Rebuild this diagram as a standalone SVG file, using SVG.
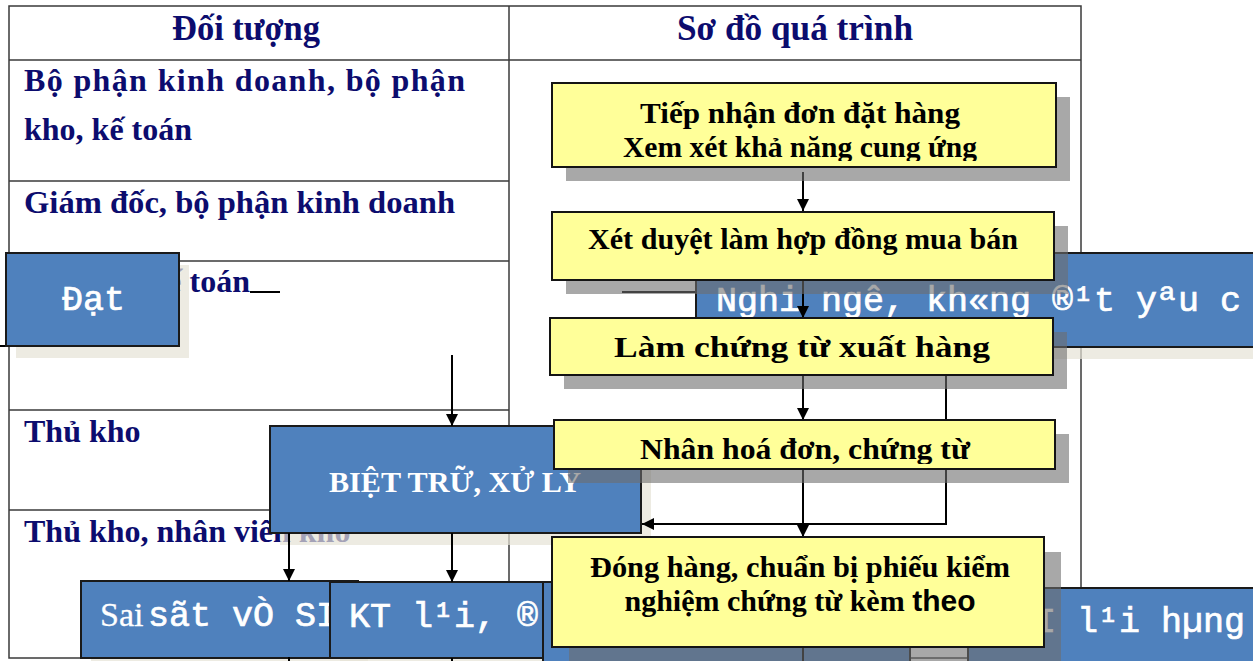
<svg xmlns="http://www.w3.org/2000/svg" width="1253" height="661" viewBox="0 0 1253 661">
<defs>
<style>
.tbl{fill:none;stroke:#3a3a3a;stroke-width:1.5}
.lt{font-family:"Liberation Serif","Times New Roman",serif;font-weight:bold;font-size:32px;fill:#0c0c6e}
.hd{font-family:"Liberation Serif","Times New Roman",serif;font-weight:bold;font-size:35px;fill:#0c0c6e;text-anchor:middle}
.yb{fill:#ffff99;stroke:#141414;stroke-width:2}
.ys{fill:#6e6e6e;fill-opacity:0.6}
.yt{font-family:"Liberation Serif","Times New Roman",serif;font-weight:bold;font-size:30px;fill:#000;text-anchor:middle}
.bb{fill:#4f81bd;stroke:#1a1a1a;stroke-width:2}
.bs{fill:#e6e2d6;fill-opacity:0.7}
.bm{font-family:"Liberation Mono","Courier New",monospace;font-size:35px;fill:#fff;stroke:#fff;stroke-width:0.7}
.bsf{font-family:"Liberation Serif","Times New Roman",serif;fill:#fff}
.con{fill:none;stroke:#000;stroke-width:2}
</style>
<marker id="ah" markerUnits="userSpaceOnUse" markerWidth="12" markerHeight="12" refX="12" refY="6" orient="auto"><path d="M0,0 L12,6 L0,12 z" fill="#000"/></marker>
<clipPath id="clipTiep"><rect x="552" y="83" width="504" height="78"/></clipPath>
<clipPath id="clipNhan"><rect x="554" y="420" width="501" height="44"/></clipPath>
</defs>
<rect x="0" y="0" width="1253" height="661" fill="#fff"/>
<g id="table">
<rect class="tbl" x="9" y="6" width="1072" height="652"/>
<line class="tbl" x1="509" y1="6" x2="509" y2="658"/>
<line class="tbl" x1="9" y1="60" x2="1081" y2="60"/>
<line class="tbl" x1="9" y1="181" x2="509" y2="181"/>
<line class="tbl" x1="9" y1="261" x2="509" y2="261"/>
<line class="tbl" x1="9" y1="410" x2="509" y2="410"/>
<line class="tbl" x1="9" y1="510" x2="509" y2="510"/>
<text class="hd" x="246" y="40" textLength="148" lengthAdjust="spacingAndGlyphs">Đối tượng</text>
<text class="hd" x="795" y="40" textLength="236" lengthAdjust="spacingAndGlyphs">Sơ đồ quá trình</text>
<text class="lt" x="24" y="91" textLength="441" lengthAdjust="spacing">Bộ phận kinh doanh, bộ phận</text>
<text class="lt" x="24" y="140">kho, kế toán</text>
<text class="lt" x="24" y="213" textLength="431" lengthAdjust="spacingAndGlyphs">Giám đốc, bộ phận kinh doanh</text>
<text class="lt" x="250" y="292" text-anchor="end">kế toán</text>
<text class="lt" x="24" y="442">Thủ kho</text>
<text class="lt" x="24" y="542">Thủ kho, nhân viên kho</text>
</g>
<g id="fragments">
<line class="con" x1="250" y1="292" x2="280" y2="292"/>
<line class="con" x1="622" y1="292" x2="696" y2="292"/>
<line class="con" x1="0" y1="346" x2="6" y2="346"/>
</g>
<g id="node-dat">
<rect class="bs" x="16" y="265" width="173" height="93"/>
<rect class="bb" x="6" y="253" width="173" height="93"/>
<text class="bm" x="62" y="310">Đạt</text>
</g>
<g id="node-nghi">
<rect class="bs" x="706" y="265" width="600" height="94"/>
<rect class="bb" x="696" y="253" width="600" height="94"/>
<text class="bm" x="716" y="311">Nghi ngê, kh«ng ®¹t yªu c</text>
</g>
<g id="node-biet">
<rect class="bs" x="280" y="438" width="371" height="107"/>
<rect class="bb" x="270" y="426" width="371" height="107"/>
<text class="bsf" x="455" y="492" font-size="30" font-weight="bold" text-anchor="middle" textLength="252" lengthAdjust="spacingAndGlyphs">BIỆT TRỮ, XỬ LY</text>
</g>
<g id="node-saisot">
<rect class="bs" x="91" y="593" width="277" height="77"/>
<rect class="bb" x="81" y="581" width="277" height="77"/>
<text class="bm" x="100" y="626"><tspan class="bsf" font-size="34" stroke-width="0.3">Sai</tspan><tspan x="148">sãt vÒ SI</tspan></text>
</g>
<g id="node-ktlai">
<rect class="bs" x="340" y="594" width="213" height="76"/>
<rect class="bb" x="330" y="582" width="213" height="76"/>
<text class="bm" x="349" y="627">KT l¹i, ®</text>
</g>
<g id="node-mid">
<rect class="bb" x="543" y="582" width="367" height="90"/>
</g>
<g id="node-hang">
<rect class="bb" x="968" y="588" width="300" height="80"/>
<text class="bm" x="1035" y="632">I l¹i hµng</text>
</g>
<g id="connectors">
<line class="con" x1="803" y1="172" x2="803" y2="211" marker-end="url(#ah)"/>
<line class="con" x1="803" y1="280" x2="803" y2="318" marker-end="url(#ah)"/>
<line class="con" x1="803" y1="375" x2="803" y2="420" marker-end="url(#ah)"/>
<line class="con" x1="803" y1="469" x2="803" y2="537" marker-end="url(#ah)"/>
<polyline class="con" points="946,375 946,524 642,524" marker-end="url(#ah)"/>
<line class="con" x1="452" y1="355" x2="452" y2="426" marker-end="url(#ah)"/>
<line class="con" x1="289" y1="533" x2="289" y2="581" marker-end="url(#ah)"/>
<line class="con" x1="452" y1="533" x2="452" y2="582" marker-end="url(#ah)"/>
<line class="con" x1="803" y1="645" x2="803" y2="661"/>
<line class="con" x1="289" y1="657" x2="289" y2="661"/>
<line class="con" x1="452" y1="658" x2="452" y2="661"/>
</g>
<g id="node-tiepnhan">
<rect class="ys" x="566" y="97" width="504" height="84"/>
<rect class="yb" x="552" y="83" width="504" height="84"/>
<g clip-path="url(#clipTiep)">
<text class="yt" x="800" y="123" textLength="320" lengthAdjust="spacingAndGlyphs">Tiếp nhận đơn đặt hàng</text>
<text class="yt" x="800" y="157" textLength="354" lengthAdjust="spacingAndGlyphs">Xem xét khả năng cung ứng</text>
</g>
</g>
<g id="node-xetduyet">
<rect class="ys" x="566" y="226" width="502" height="68"/>
<rect class="yb" x="552" y="212" width="502" height="68"/>
<text class="yt" x="803" y="249" textLength="430" lengthAdjust="spacingAndGlyphs">Xét duyệt làm hợp đồng mua bán</text>
</g>
<g id="node-lamchungtu">
<rect class="ys" x="564" y="332" width="503" height="57"/>
<rect class="yb" x="550" y="318" width="503" height="57"/>
<text class="yt" x="802" y="357" font-size="36" textLength="376" lengthAdjust="spacingAndGlyphs">Làm chứng từ xuất hàng</text>
</g>
<g id="node-nhanhoadon">
<rect class="ys" x="568" y="434" width="501" height="49"/>
<rect class="yb" x="554" y="420" width="501" height="49"/>
<g clip-path="url(#clipNhan)">
<text class="yt" x="805" y="459" font-size="32" textLength="330" lengthAdjust="spacingAndGlyphs">Nhân hoá đơn, chứng từ</text>
</g>
</g>
<g id="node-donghang">
<rect class="ys" x="569" y="552" width="492" height="110"/>
<rect class="yb" x="552" y="537" width="492" height="110"/>
<text class="yt" x="800" y="577" textLength="420" lengthAdjust="spacingAndGlyphs">Đóng hàng, chuẩn bị phiếu kiểm</text>
<text class="yt" x="800" y="611">nghiệm chứng từ kèm <tspan font-family="'Liberation Sans',Arial,sans-serif">theo</tspan></text>
</g>
</svg>
